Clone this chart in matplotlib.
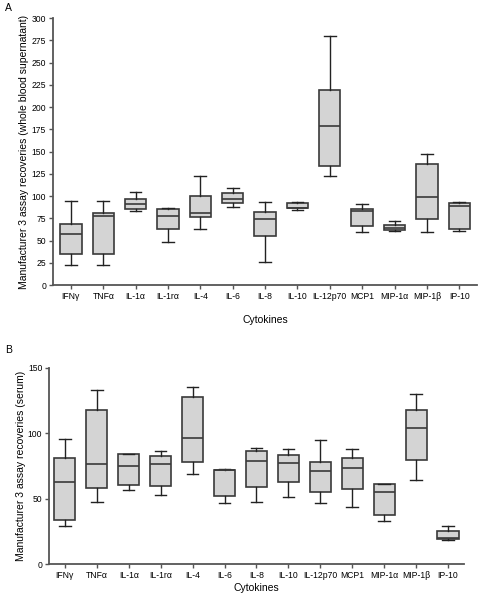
import matplotlib
matplotlib.use("Agg")
import matplotlib.pyplot as plt

plt.rcParams['font.family'] = ['Liberation Sans', 'DejaVu Sans']

categories = ["IFNγ", "TNFα", "IL-1α", "IL-1rα", "IL-4", "IL-6", "IL-8", "IL-10",
              "IL-12p70", "MCP1", "MIP-1α", "MIP-1β", "IP-10"]

# Panel A (whole blood supernatant)
a_low = [23, 23, 83, 48, 63, 88, 26, 84, 122.5, 60, 61, 60, 60.7]
a_q1 = [34.5, 34.5, 85, 62.5, 76, 92, 55, 86, 133.6, 66, 62, 74, 62.6]
a_med = [57, 77, 91, 77, 81, 96.3, 74, 87, 179, 82.8, 64.5, 98.5, 88.4]
a_q3 = [69, 80.5, 97, 85.4, 99.5, 103, 82.4, 92.5, 218.8, 85.4, 67.8, 135.6, 91.8]
a_high = [94, 94, 105, 86, 122, 109, 93, 93.6, 280, 90.6, 72, 147.6, 93]

# Panel B (serum)
b_low = [29.5, 47.8, 56.4, 52.6, 68.9, 46.8, 47.8, 51.3, 46.5, 43.7, 33, 64.5, 18.3]
b_q1 = [33.5, 58.4, 60.2, 59.5, 77.8, 52, 59, 62.5, 55, 57.4, 37.6, 79.3, 19]
b_med = [62.8, 76.3, 74.7, 76.5, 96.3, 72, 78.6, 77.3, 71.2, 73.5, 55.4, 104.2, 20.3]
b_q3 = [81.3, 117.4, 84.2, 82.6, 127.8, 71.7, 86.2, 83.6, 78, 80.8, 61.5, 118, 25.6]
b_high = [95.6, 133, 84.4, 86.7, 135.5, 73, 89, 88.2, 94.8, 87.7, 61.5, 130, 29]

fig = plt.figure(figsize=(4.78, 5.97), dpi=100)

edge = '#3a3a3a'
fill = '#d4d4d4'


def draw(ax, low, q1, med, q3, high):
    stats = []
    for i in range(len(categories)):
        stats.append(dict(whislo=low[i], q1=q1[i], med=med[i], q3=max(q3[i], med[i]),
                          whishi=high[i], fliers=[], label=categories[i]))
    ax.bxp(stats, positions=range(len(categories)), widths=0.66, capwidths=0.36,
           showfliers=False, patch_artist=True,
           boxprops=dict(facecolor=fill, edgecolor=edge, linewidth=1.2),
           medianprops=dict(color=edge, linewidth=1.2),
           whiskerprops=dict(color='#222222', linewidth=1.0),
           capprops=dict(color='#222222', linewidth=1.0))
    for s in ['top', 'right']:
        ax.spines[s].set_visible(False)
    for s in ['left', 'bottom']:
        ax.spines[s].set_linewidth(1.3)
        ax.spines[s].set_color('#555555')
    ax.tick_params(axis='both', direction='out', length=3, width=1.0,
                   labelsize=6.2, color='#555555', pad=2)
    ax.set_xticks(range(len(categories)))
    ax.set_xticklabels(categories)


axA = fig.add_axes([0.111, 0.5226, 0.887, 0.4472])
draw(axA, a_low, a_q1, a_med, a_q3, a_high)
axA.set_ylim(0, 300)
axA.set_yticks(range(0, 301, 25))
axA.set_xlim(-0.55, 12.55)
axA.set_ylabel("Manufacturer 3 assay recoveries (whole blood supernatant)", fontsize=7.5, labelpad=2)
axA.set_xlabel("Cytokines", fontsize=7.5, labelpad=10)

axB = fig.add_axes([0.103, 0.0548, 0.8676, 0.3293])
draw(axB, b_low, b_q1, b_med, b_q3, b_high)
axB.set_ylim(0, 150)
axB.set_yticks([0, 50, 100, 150])
axB.set_xlim(-0.49, 12.5)
axB.set_ylabel("Manufacturer 3 assay recoveries (serum)", fontsize=7.5, labelpad=1)
axB.set_xlabel("Cytokines", fontsize=7.5, labelpad=2)

fig.text(5 / 478, 1 - 8 / 597, "A", fontsize=7.5, va='center', ha='left')
fig.text(5 / 478, 1 - 350 / 597, "B", fontsize=7.5, va='center', ha='left')

fig.savefig("out.png", dpi=100)
